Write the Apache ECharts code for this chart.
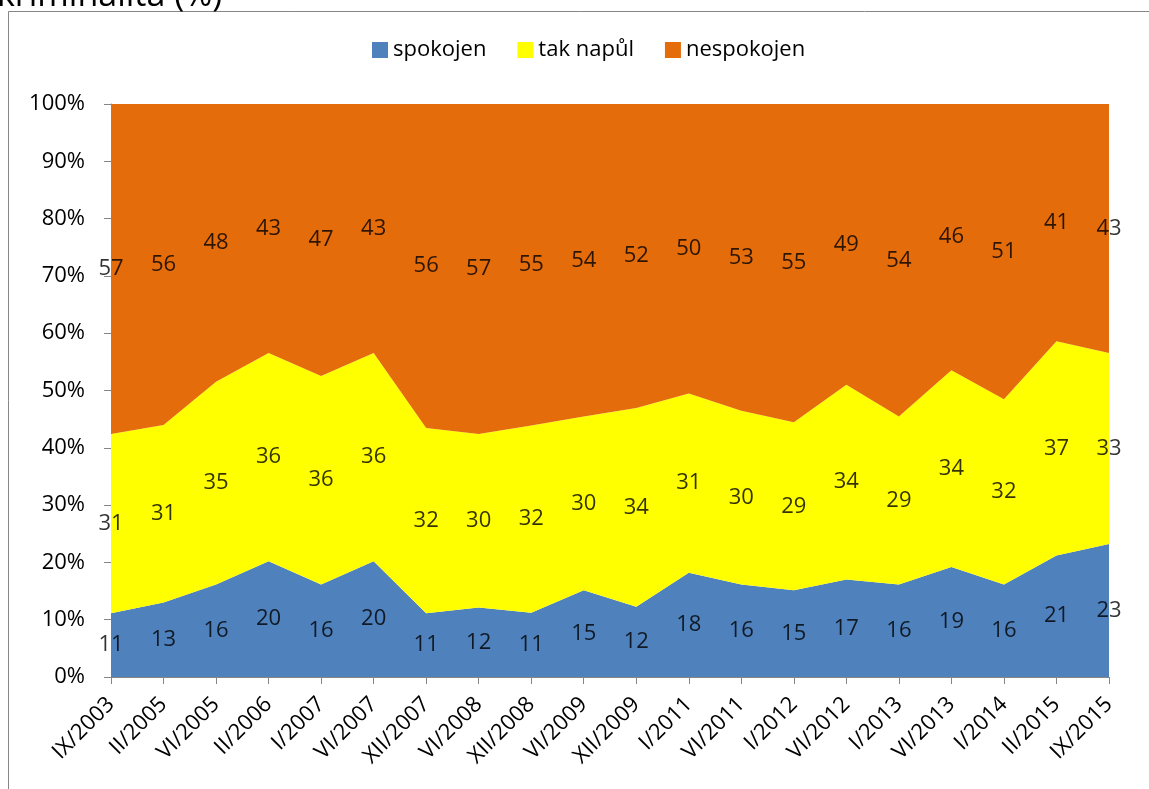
<!DOCTYPE html>
<html>
<head>
<meta charset="utf-8">
<script src="https://cdn.jsdelivr.net/npm/echarts@6/dist/echarts.min.js"></script>
<style>
  html, body { margin: 0; padding: 0; background: #fff; }
  #chart { width: 1149px; height: 789px; }
</style>
</head>
<body>
<div id="chart"></div>
<script>
// survey waves
const categories = ['IX/2003', 'II/2005', 'VI/2005', 'II/2006', 'I/2007', 'VI/2007', 'XII/2007', 'VI/2008',
  'XII/2008', 'VI/2009', 'XII/2009', 'I/2011', 'VI/2011', 'I/2012', 'VI/2012', 'I/2013', 'VI/2013',
  'I/2014', 'II/2015', 'IX/2015'];
const spokojen = [11, 13, 16, 20, 16, 20, 11, 12, 11, 15, 12, 18, 16, 15, 17, 16, 19, 16, 21, 23];
const takNapul = [31, 31, 35, 36, 36, 36, 32, 30, 32, 30, 34, 31, 30, 29, 34, 29, 34, 32, 37, 33];
const nespokojen = [57, 56, 48, 43, 47, 43, 56, 57, 55, 54, 52, 50, 53, 55, 49, 54, 46, 51, 41, 43];
const yTicks = [0, 10, 20, 30, 40, 50, 60, 70, 80, 90, 100];

const seriesNames = ['spokojen', 'tak napůl', 'nespokojen'];
const colors = ['#4F81BD', '#FFFF00', '#E46C0A'];
const raw = [spokojen, takNapul, nespokojen];
const FONT = 'Open Sans';

// 100% stacked: normalise each wave to its total
const totals = categories.map((c, i) => raw.reduce((s, arr) => s + arr[i], 0));
const pct = raw.map(arr => arr.map((v, i) => v / totals[i] * 100));

// label positions = middle of each normalised segment
const mids = pct.map((arr, k) => arr.map((v, i) => {
  let base = 0;
  for (let j = 0; j < k; j++) base += pct[j][i];
  return base + v / 2;
}));

const chart = echarts.init(document.getElementById('chart'));

const series = [];
pct.forEach((arr, k) => {
  series.push({
    name: seriesNames[k],
    type: 'line',
    stack: 'total',
    data: arr,
    showSymbol: false,
    symbol: 'none',
    lineStyle: { width: 0 },
    areaStyle: { color: colors[k], opacity: 1 },
    itemStyle: { color: colors[k] },
    z: 2
  });
});
mids.forEach((arr, k) => {
  series.push({
    type: 'scatter',
    data: arr.map((v, i) => ({ value: v, raw: raw[k][i] })),
    symbolSize: 0,
    silent: true,
    z: 5,
    label: {
      show: true,
      position: 'inside',
      color: '#000',
      fontFamily: FONT,
      fontSize: 22,
      formatter: p => p.data.raw
    }
  });
});

chart.setOption({
  animation: false,
  graphic: [
    {
      type: 'rect',
      shape: { x: 8.5, y: 11.5, width: 1300, height: 1000 },
      style: { fill: 'none', stroke: '#868686', lineWidth: 1 },
      z: -1
    },
    {
      type: 'text',
      x: -3,
      y: 13,
      style: { text: 'kriminalita (%)', font: '34px ' + FONT, fill: '#000', verticalAlign: 'bottom' }
    }
  ],
  legend: {
    top: 34,
    left: 367,
    itemWidth: 16,
    itemHeight: 16,
    itemGap: 31,
    icon: 'rect',
    data: seriesNames,
    textStyle: { fontFamily: FONT, fontSize: 22, color: '#000', padding: [0, 0, 0, 0] }
  },
  grid: { left: 111, right: 40, top: 104, bottom: 112 },
  xAxis: {
    type: 'category',
    data: categories,
    boundaryGap: false,
    axisLine: { lineStyle: { color: '#868686', width: 1 } },
    axisTick: { show: true, alignWithLabel: true, length: 7, lineStyle: { color: '#868686' } },
    axisLabel: { rotate: 45, fontFamily: FONT, fontSize: 22, color: '#000', margin: 24, interval: 0 },
    splitLine: { show: false }
  },
  yAxis: {
    type: 'value',
    min: yTicks[0],
    max: yTicks[yTicks.length - 1],
    interval: 10,
    axisLine: { show: true, lineStyle: { color: '#868686', width: 1 } },
    axisTick: { show: true, length: 7, lineStyle: { color: '#868686' } },
    axisLabel: { fontFamily: FONT, fontSize: 22, color: '#000', margin: 26, formatter: v => v + '%' },
    splitLine: { show: false }
  },
  series
});
</script>
</body>
</html>
